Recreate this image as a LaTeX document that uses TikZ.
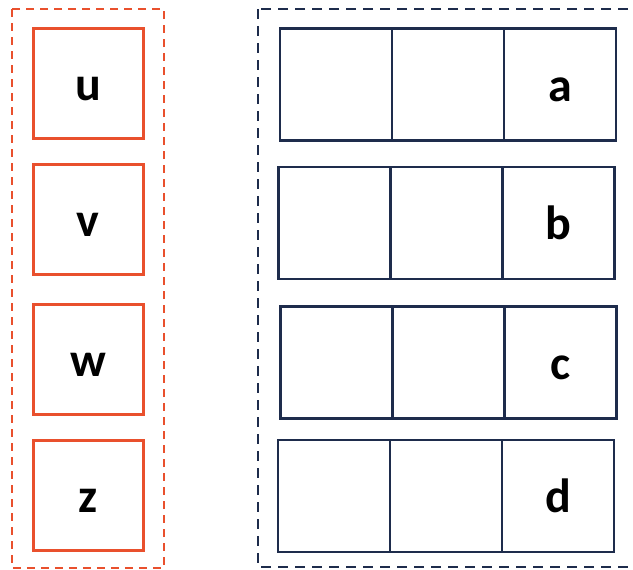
\documentclass[tikz,border=0pt]{standalone}
\usepackage{fontspec}
\setmainfont{Carlito}
\definecolor{orng}{RGB}{233,80,45}
\definecolor{navy}{RGB}{30,44,76}
\begin{document}
\begin{tikzpicture}[x=1pt,y=-1pt,
  lbl/.style={font=\bfseries\fontsize{48}{48}\selectfont,text height=34pt,text depth=0pt},
  obox/.style={draw=orng,line width=2.6pt,minimum width=110pt,minimum height=110pt,inner sep=0pt,anchor=north west,lbl},
  cell/.style={draw=navy,line width=2.8pt,minimum width=112pt,minimum height=112pt,inner sep=0pt,anchor=north west,lbl},
  odash/.style={draw=orng,line width=2.6pt,dash pattern=on 8.3pt off 5.7pt},
  ndash/.style={draw=navy,line width=2.6pt,dash pattern=on 10pt off 7pt}]
\useasboundingbox (0,0) rectangle (633,570);
\begin{scope}
\clip (0,0) rectangle (633,570);
% containers
\draw[odash] (12,9) rectangle (164,568);
\draw[ndash] (258,9) rectangle (650,567);
% orange boxes
\node[obox] (u) at (32,27) {u};
\node[obox] (v) at (32,163) {v};
\node[obox] (w) at (32,303) {w};
\node[obox] (z) at (32,439) {z};
% navy rows
\node[cell] (a1) at (278.5,27) {};
\node[cell] (a2) at (390.5,27) {};
\node[cell] (a3) at (502.5,27) {a};
\node[cell] (b1) at (277,165.5) {};
\node[cell] (b2) at (389,165.5) {};
\node[cell] (b3) at (501,165.5) {b};
\node[cell] (c1) at (279,305) {};
\node[cell] (c2) at (391,305) {};
\node[cell] (c3) at (503,305) {c};
\node[cell] (d1) at (276.5,438.5) {};
\node[cell] (d2) at (388.5,438.5) {};
\node[cell] (d3) at (500.5,438.5) {d};
\end{scope}
\end{tikzpicture}
\end{document}
